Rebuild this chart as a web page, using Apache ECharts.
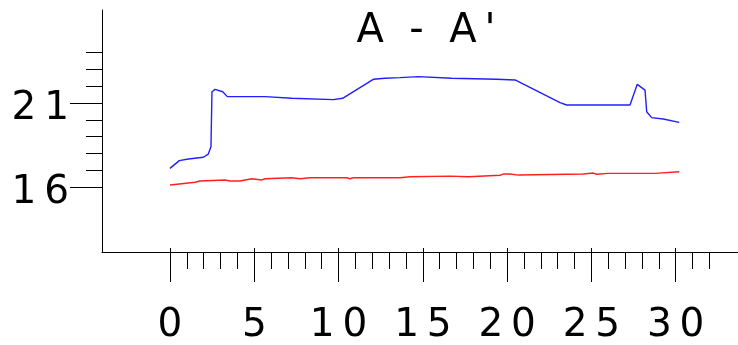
<!DOCTYPE html>
<html><head><meta charset="utf-8">
<script src="https://cdn.jsdelivr.net/npm/echarts@6/dist/echarts.min.js"></script>
<style>html,body{margin:0;padding:0;background:#fff}#c{width:738px;height:345px}</style>
</head><body><div id="c"></div>
<script>
const titleText = "A  -  A\u2009'";
const blueX = [0, 0.55, 1.09, 1.98, 2.27, 2.43, 2.49, 2.67, 3.13, 3.40, 5.64, 5.73, 7.22, 7.32, 9.69, 10.24, 12.06, 12.75, 13.64, 14.73, 16.71, 19.38, 20.47, 23.14, 23.53, 27.29, 27.72, 28.18, 28.28, 28.57, 29.26, 30.21];
const blueY = [17.11, 17.57, 17.67, 17.77, 17.96, 18.40, 21.67, 21.81, 21.67, 21.38, 21.38, 21.28, 21.28, 21.20, 21.20, 21.28, 22.41, 22.47, 22.51, 22.57, 22.47, 22.41, 22.37, 21.02, 20.88, 20.88, 22.11, 21.77, 20.48, 20.13, 20.05, 19.85];
const redX = [0, 0.55, 1.48, 1.78, 3.26, 3.56, 4.15, 4.85, 5.44, 5.64, 7.22, 7.71, 8.30, 10.48, 10.68, 10.87, 13.64, 14.24, 16.61, 16.71, 17.70, 17.80, 19.58, 19.77, 20.17, 20.66, 24.52, 24.62, 25.11, 25.31, 26.00, 28.77, 28.87, 30.21];
const redY = [16.12, 16.18, 16.28, 16.36, 16.42, 16.36, 16.36, 16.49, 16.42, 16.49, 16.55, 16.49, 16.55, 16.55, 16.49, 16.55, 16.55, 16.61, 16.65, 16.61, 16.61, 16.67, 16.70, 16.77, 16.77, 16.71, 16.77, 16.83, 16.83, 16.76, 16.81, 16.81, 16.89, 16.91];
const xTickLabels = [0, 5, 10, 15, 20, 25, 30];
const yTickLabels = [16, 21];

const spaced = v => String(v).split('').join('\u2009');
const F = 'DejaVu Sans';
const ink = '#000';
const hiddenX = (g) => ({type:'value', gridIndex:g, show:false, min:0, max:1});
const hiddenY = (g) => ({type:'value', gridIndex:g, show:false, min:0, max:1});

const chart = echarts.init(document.getElementById('c'), null, {renderer:'canvas'});
chart.setOption({
  animation:false,
  backgroundColor:'#fff',
  title:{text:titleText, left:421, top:7, textAlign:'center',
    textStyle:{fontFamily:F, fontSize:40, fontWeight:'normal', color:ink}},
  grid:[
    {left:102, right:0, top:10, bottom:93},
    {left:170, right:28.6, top:10, bottom:93},
    {left:170, right:62.3, top:10, bottom:93},
    {left:102, right:0, top:52.6, bottom:158},
    {left:102, right:0, top:103, bottom:158}
  ],
  xAxis:[
    {type:'value', gridIndex:0, min:-4.034, max:33.696, axisLine:{show:true, onZero:false, lineStyle:{color:ink, width:1}}, axisTick:{show:false}, axisLabel:{show:false}, splitLine:{show:false}},
    {type:'value', gridIndex:1, min:0, max:32, interval:1, axisLine:{show:false}, axisTick:{show:true, length:17, lineStyle:{color:ink, width:1}}, axisLabel:{show:false}, splitLine:{show:false}},
    {type:'value', gridIndex:2, min:0, max:30, interval:5, axisLine:{show:false}, axisTick:{show:true, length:34, lineStyle:{color:ink, width:1}},
      axisLabel:{show:true, margin:58, fontFamily:F, fontSize:39, color:ink, formatter:v => xTickLabels.includes(v) ? spaced(v) : ''}, splitLine:{show:false}},
    hiddenX(3), hiddenX(4)
  ],
  yAxis:[
    {type:'value', gridIndex:0, min:12.131, max:26.536, axisLine:{show:true, onZero:false, lineStyle:{color:ink, width:1}}, axisTick:{show:false}, axisLabel:{show:false}, splitLine:{show:false}},
    hiddenY(1), hiddenY(2),
    {type:'value', gridIndex:3, min:16, max:24, interval:1, axisLine:{show:false}, axisTick:{show:true, length:16, lineStyle:{color:ink, width:1}}, axisLabel:{show:false}, splitLine:{show:false}},
    {type:'value', gridIndex:4, min:16, max:21, interval:5, axisLine:{show:false}, axisTick:{show:true, length:32, lineStyle:{color:ink, width:1}},
      axisLabel:{show:true, margin:33, color:ink,
        formatter:v => yTickLabels.includes(v) ? '{a|' + spaced(v) + '}' : '',
        rich:{a:{fontFamily:F, fontSize:39, color:ink, padding:[12,0,0,0]}}}, splitLine:{show:false}}
  ],
  series:[
    {type:'line', xAxisIndex:0, yAxisIndex:0, data:blueX.map((x,i)=>[x, blueY[i]]), showSymbol:false, symbol:'none', lineStyle:{color:'#2020ff', width:1.4}},
    {type:'line', xAxisIndex:0, yAxisIndex:0, data:redX.map((x,i)=>[x, redY[i]]), showSymbol:false, symbol:'none', lineStyle:{color:'#ff2020', width:1.4}}
  ]
});
</script></body></html>
